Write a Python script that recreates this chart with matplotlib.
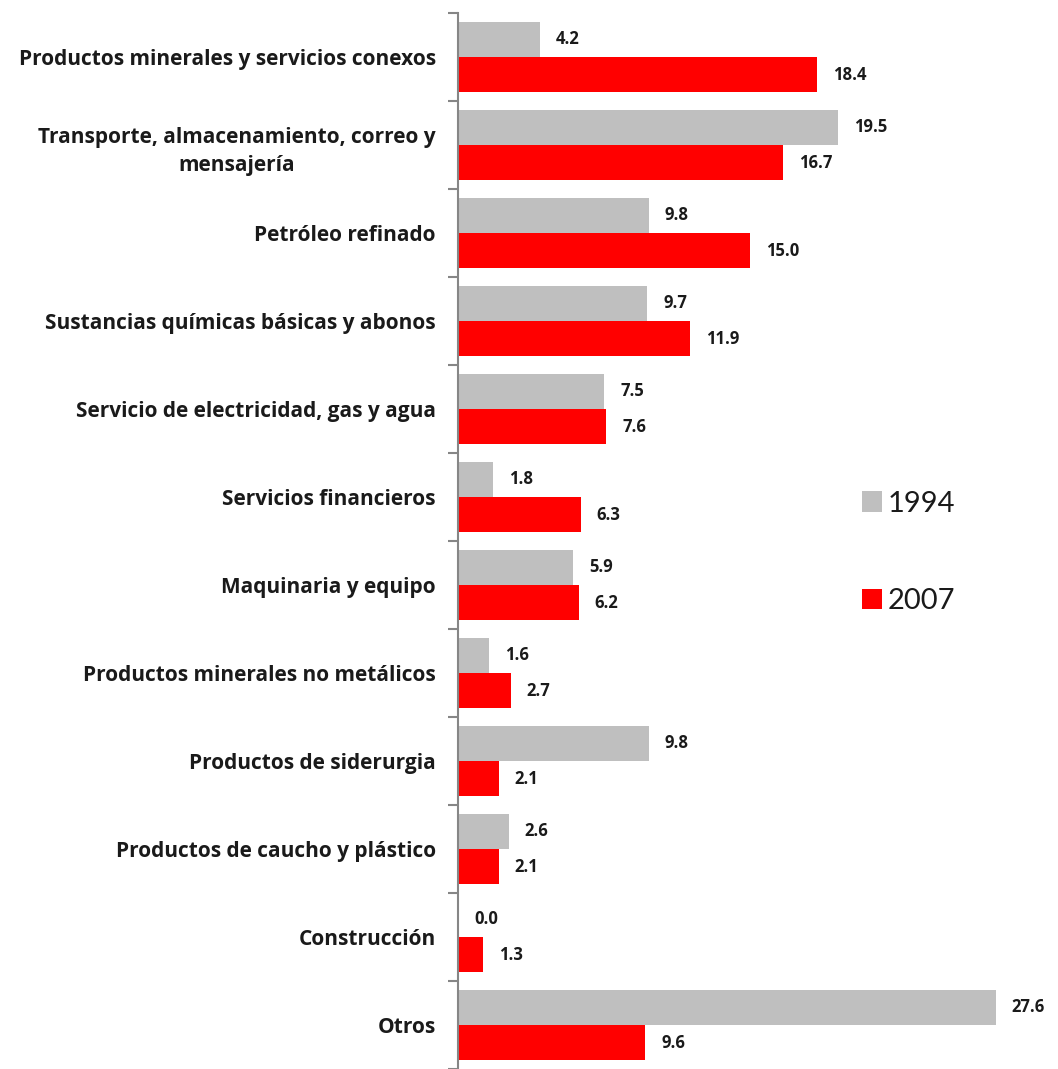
import matplotlib
matplotlib.use("Agg")
import matplotlib.pyplot as plt
import numpy as np
from matplotlib.patches import Patch

categories = [
    "Productos minerales y servicios conexos",
    "Transporte, almacenamiento, correo y\nmensajería",
    "Petróleo refinado",
    "Sustancias químicas básicas y abonos",
    "Servicio de electricidad, gas y agua",
    "Servicios financieros",
    "Maquinaria y equipo",
    "Productos minerales no metálicos",
    "Productos de siderurgia",
    "Productos de caucho y plástico",
    "Construcción",
    "Otros",
]
values_1994 = [4.2, 19.5, 9.8, 9.7, 7.5, 1.8, 5.9, 1.6, 9.8, 2.6, 0.0, 27.6]
values_2007 = [18.4, 16.7, 15.0, 11.9, 7.6, 6.3, 6.2, 2.7, 2.1, 2.1, 1.3, 9.6]
series_names = ["1994", "2007"]

GRAY = "#BFBFBF"
RED = "#FF0000"
TXT = "#1a1a1a"
plt.rcParams["font.family"] = ["Open Sans", "DejaVu Sans"]

fig = plt.figure(figsize=(10.58, 10.69), dpi=100)
ax = fig.add_axes([458 / 1058, 0.0, 600 / 1058, (1069 - 13) / 1069])

n = len(categories)
y = np.arange(n)
h = 0.40
ax.barh(y - h / 2, values_1994, height=h, color=GRAY, label=series_names[0])
ax.barh(y + h / 2, values_2007, height=h, color=RED, label=series_names[1])

ax.set_ylim(n - 0.5, -0.5)
ax.set_xlim(0, 600 / 19.49)

for yi, v in zip(y, values_1994):
    ax.annotate(f"{v:.1f}", (v, yi - h / 2), xytext=(11.5, 0), textcoords="offset points",
                va="center", ha="left", fontsize=12, fontweight="bold", color=TXT)
for yi, v in zip(y, values_2007):
    ax.annotate(f"{v:.1f}", (v, yi + h / 2), xytext=(11.5, 0), textcoords="offset points",
                va="center", ha="left", fontsize=12, fontweight="bold", color=TXT)

for s in ["top", "right", "bottom"]:
    ax.spines[s].set_visible(False)
ax.spines["left"].set_color("#868686")
ax.spines["left"].set_linewidth(1.5)
ax.set_xticks([])

ax.set_yticks(np.arange(-0.5, n, 1.0), minor=False)
ax.set_yticklabels([])
ax.tick_params(axis="y", which="major", length=7, width=1.5, color="#868686", direction="out")
ax.set_yticks(y, minor=True)
ax.set_yticklabels(categories, minor=True, fontsize=15, fontweight="bold", color=TXT,
                   multialignment="center", linespacing=1.45)
ax.tick_params(axis="y", which="minor", length=0, pad=16)

handles = [Patch(facecolor=GRAY), Patch(facecolor=RED)]
leg = fig.legend(handles, series_names, loc="upper left", bbox_to_anchor=(850 / 1058, 1 - 479 / 1069),
                 frameon=False, prop={"family": "Lato", "size": 21}, handlelength=0.7, handleheight=0.7,
                 handletextpad=0.2, labelspacing=2.45, borderaxespad=0)
for t in leg.get_texts():
    t.set_color(TXT)

fig.savefig("out.png", dpi=100, facecolor="white")
